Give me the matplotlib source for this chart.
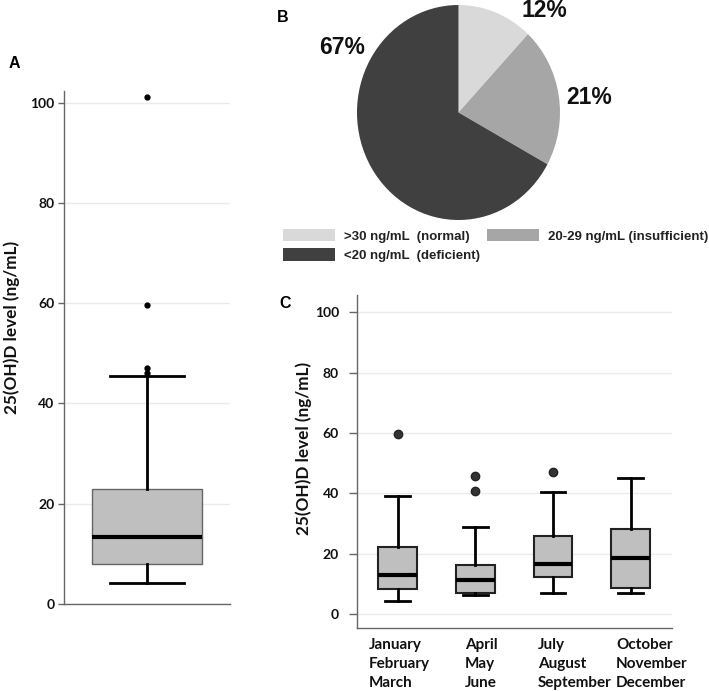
import matplotlib

matplotlib.use("Agg")
import matplotlib.pyplot as plt
from matplotlib import font_manager
from matplotlib import patheffects
from matplotlib.patches import Patch
from matplotlib.transforms import blended_transform_factory

# Panel A: all patients, one box (ng/mL)
A_MED = 13.3
A_Q1 = 8.0
A_Q3 = 23.0
A_LO = 4.2
A_HI = 45.4
A_FLIERS = [46.0, 47.1, 59.6, 101.1]

# Panel B: share of patients per vitamin D class (%)
B_SHARES = [12, 21, 67]
B_LABELS = [">30 ng/mL  (normal)", "20-29 ng/mL (insufficient)", "<20 ng/mL  (deficient)"]
B_PCT = ["12%", "21%", "67%"]
B_COLORS = ["#d9d9d9", "#a6a6a6", "#404040"]

# Panel C: by quarter of the year
C_QUARTERS = ["January\nFebruary\nMarch", "April\nMay\nJune",
              "July\nAugust\nSeptember", "October\nNovember\nDecember"]
C_MED = [13.1, 11.2, 16.6, 18.5]
C_Q1 = [8.25, 7.0, 12.2, 8.7]
C_Q3 = [22.2, 16.4, 25.9, 28.3]
C_LO = [4.2, 6.3, 7.0, 7.0]
C_HI = [39.0, 28.9, 40.6, 45.2]
C_FLIERS = [[59.5], [40.7, 45.9], [47.0], []]

W, H = 709, 691
AX_FONT = "Lato"
PIE_FONT = "Liberation Sans"
INK = "#111111"
SPINE = "#666666"
GRID = "#ebebeb"
BOX_FILL = "#bfbfbf"

# Lato often ships without its bold face; fake the weight with a thin stroke then.
_lato_bold = any(f.name == "Lato" and str(f.weight) in ("600", "700", "800", "900", "bold")
                 for f in font_manager.fontManager.ttflist)
BOLD_FX = [] if _lato_bold else [patheffects.withStroke(linewidth=1.0, foreground=INK)]


def rect(left, top, right, bottom):
    """Pixel box -> figure fraction [l, b, w, h]."""
    return [left / W, 1 - bottom / H, (right - left) / W, (bottom - top) / H]


def bold_text(t, size):
    t.set_fontfamily(AX_FONT)
    t.set_fontweight("bold")
    t.set_fontsize(size)
    t.set_color(INK)
    t.set_path_effects(BOLD_FX)


def style_axis(ax, tick_len, pad):
    for s in ("top", "right"):
        ax.spines[s].set_visible(False)
    for s in ("left", "bottom"):
        ax.spines[s].set_color(SPINE)
        ax.spines[s].set_linewidth(1.0)
    ax.set_xticks([])
    ax.tick_params(axis="y", length=tick_len, width=1, color=SPINE, pad=pad)
    for lab in ax.get_yticklabels():
        bold_text(lab, 10)
    ax.yaxis.grid(True, color=GRID, linewidth=1)
    ax.set_axisbelow(True)


fig = plt.figure(figsize=(W / 100, H / 100), dpi=100)

# ---- A ----
axA = fig.add_axes(rect(64, 91, 230, 604))
statsA = [dict(med=A_MED, q1=A_Q1, q3=A_Q3, whislo=A_LO, whishi=A_HI, fliers=A_FLIERS)]
axA.bxp(statsA, positions=[0], widths=0.66, capwidths=0.44, patch_artist=True,
        boxprops=dict(facecolor=BOX_FILL, edgecolor="#666666", linewidth=1),
        medianprops=dict(color="black", linewidth=3),
        whiskerprops=dict(color="black", linewidth=2),
        capprops=dict(color="black", linewidth=2),
        flierprops=dict(marker="o", markerfacecolor="black", markeredgecolor="black",
                        markersize=3.5))
axA.set_xlim(-0.5, 0.5)
axA.set_ylim(0, 102.3)
axA.set_yticks([0, 20, 40, 60, 80, 100])
style_axis(axA, 4, 3)
axA.set_ylabel("25(OH)D level (ng/mL)")
bold_text(axA.yaxis.label, 12.3)
axA.yaxis.set_label_coords(-0.265, 0.54)

# ---- B ----
axB = fig.add_axes(rect(357, 5, 560, 220))
axB.pie(B_SHARES, colors=B_COLORS, startangle=90, counterclock=False,
        wedgeprops=dict(linewidth=0))
axB.set_aspect("auto")
axB.set_xlim(-1, 1)
axB.set_ylim(-1, 1)
pct_xy = [(0.842, 0.953), (1.29, 0.14), (-1.148, 0.609)]
for (px, py), txt in zip(pct_xy, B_PCT):
    axB.text(px, py, txt, ha="center", va="center", fontsize=16.5,
             fontweight="bold", fontfamily=PIE_FONT, color=INK, clip_on=False)

handles = [Patch(facecolor=c, edgecolor="none", label=l)
           for c, l in zip(B_COLORS, B_LABELS)]
order = [0, 2, 1]
leg = fig.legend([handles[i] for i in order], [B_LABELS[i] for i in order],
                 ncol=2, loc="upper left", bbox_to_anchor=(283 / W, 1 - 229 / H),
                 frameon=False, borderpad=0, borderaxespad=0,
                 handlelength=3.94, handleheight=1.06, handletextpad=0.68,
                 columnspacing=0.53, labelspacing=0.42,
                 prop=dict(family=PIE_FONT, weight="bold", size=9.5))
for t in leg.get_texts():
    t.set_color("#222222")

# ---- C ----
axC = fig.add_axes(rect(357, 295, 672, 627.7))
statsC = [dict(med=m, q1=a, q3=b, whislo=lo, whishi=hi, fliers=f)
          for m, a, b, lo, hi, f in zip(C_MED, C_Q1, C_Q3, C_LO, C_HI, C_FLIERS)]
positions = list(range(1, len(statsC) + 1))
axC.bxp(statsC, positions=positions, widths=0.5, capwidths=0.32, patch_artist=True,
        boxprops=dict(facecolor=BOX_FILL, edgecolor="#222222", linewidth=1.5),
        medianprops=dict(color="black", linewidth=3),
        whiskerprops=dict(color="black", linewidth=2),
        capprops=dict(color="black", linewidth=2),
        flierprops=dict(marker="o", markerfacecolor="#333333", markeredgecolor="#222222",
                        markersize=6))
axC.set_xlim(0.479, 4.53)
axC.set_ylim(-4.5, 105.7)
axC.set_yticks([0, 20, 40, 60, 80, 100])
style_axis(axC, 6, 7)
axC.set_ylabel("25(OH)D level (ng/mL)")
bold_text(axC.yaxis.label, 12.3)
axC.yaxis.set_label_coords(-0.143, 0.54)

trans = blended_transform_factory(axC.transData, axC.transAxes)
label_shift = [-0.367, -0.131, -0.192, -0.188]
for pos, shift, txt in zip(positions, label_shift, C_QUARTERS):
    t = axC.text(pos + shift, -0.032, txt, transform=trans, ha="left", va="top",
                 linespacing=1.42)
    bold_text(t, 11)

# panel letters
for (px, py), letter in zip([(14, 63), (283, 18), (285, 304)], "ABC"):
    fig.text(px / W, 1 - py / H, letter, ha="center", va="center",
             fontfamily=PIE_FONT, fontweight="bold", fontsize=11.5)

fig.savefig("out.png", dpi=100)
